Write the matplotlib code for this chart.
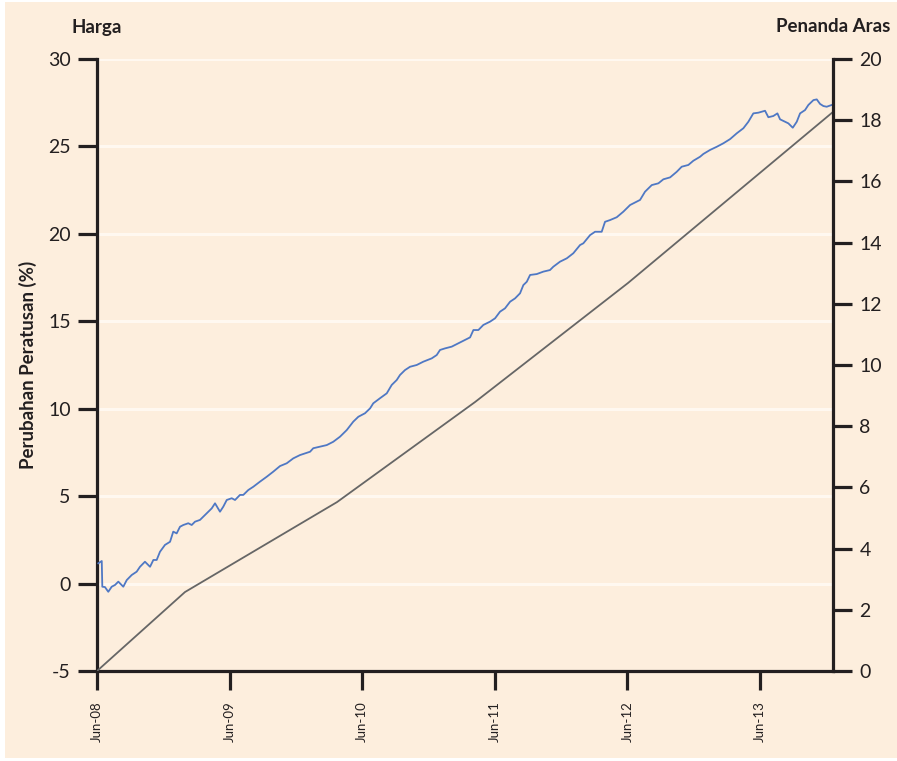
import matplotlib.pyplot as plt
from matplotlib.patches import Rectangle

plt.rcParams['font.family'] = ['Lato', 'DejaVu Sans']
plt.rcParams['axes.unicode_minus'] = False

# months after Jun-08 and price change (%)
harga_bulan = [0.12, 0.43, 0.48, 0.72, 1.02, 1.33, 1.63, 1.93, 2.38, 2.69, 3.14, 3.59, 3.89,
               4.34, 4.80, 5.10, 5.40, 5.70, 6.15, 6.61, 6.90, 7.21, 7.51, 7.81, 8.26, 8.57,
               8.87, 9.32, 9.77, 10.07, 10.38, 10.68, 11.13, 11.43, 11.74, 12.19, 12.49, 12.94,
               13.24, 13.69, 14.15, 14.75, 15.36, 15.95, 16.56, 17.17, 17.76, 18.37, 18.98,
               19.28, 19.57, 20.18, 20.79, 21.38, 21.99, 22.60, 23.19, 23.65, 24.25, 24.71,
               25.00, 25.61, 26.22, 26.67, 27.12, 27.42, 27.87, 28.33, 28.93, 29.53, 30.29,
               30.74, 31.04, 31.49, 32.10, 32.70, 33.30, 33.76, 34.06, 34.51, 34.96, 35.57,
               36.02, 36.47, 36.92, 37.38, 37.83, 38.28, 38.58, 38.89, 39.19, 39.79, 40.39,
               40.99, 41.29, 41.90, 42.51, 43.10, 43.71, 44.01, 44.62, 45.07, 45.67, 45.97,
               46.43, 47.03, 47.63, 48.24, 48.84, 49.14, 49.59, 50.20, 50.80, 51.25, 51.86,
               52.46, 52.91, 53.51, 53.96, 54.57, 54.87, 55.48, 56.08, 56.68, 57.29, 57.89,
               58.49, 58.94, 59.39, 59.85, 60.45, 60.75, 61.20, 61.57, 61.81, 62.26, 62.56,
               62.96, 63.32, 63.62, 64.07, 64.37, 64.83, 65.13, 65.43, 65.73, 66.03, 66.48]
harga = [1.16, 1.29, -0.18, -0.20, -0.47, -0.18, -0.08, 0.11, -0.18, 0.20, 0.49, 0.68, 0.96,
         1.25, 0.96, 1.35, 1.35, 1.82, 2.21, 2.39, 2.97, 2.87, 3.25, 3.35, 3.45, 3.35,
         3.54, 3.64, 3.92, 4.11, 4.30, 4.59, 4.11, 4.40, 4.78, 4.88, 4.78, 5.07,
         5.07, 5.35, 5.54, 5.83, 6.11, 6.40, 6.72, 6.88, 7.16, 7.35, 7.48,
         7.54, 7.74, 7.83, 7.92, 8.11, 8.40, 8.78, 9.26, 9.54, 9.74, 10.02,
         10.31, 10.60, 10.88, 11.36, 11.64, 11.93, 12.21, 12.40, 12.50, 12.69, 12.88,
         13.07, 13.36, 13.45, 13.55, 13.74, 13.93, 14.08, 14.50, 14.50, 14.79, 14.98,
         15.17, 15.55, 15.74, 16.12, 16.31, 16.60, 17.07, 17.26, 17.65, 17.70, 17.84,
         17.93, 18.12, 18.41, 18.60, 18.89, 19.36, 19.46, 19.93, 20.12, 20.12, 20.69,
         20.79, 20.95, 21.27, 21.65, 21.84, 21.94, 22.41, 22.79, 22.89, 23.12, 23.23,
         23.55, 23.84, 23.94, 24.18, 24.41, 24.57, 24.80, 24.98, 25.18, 25.42, 25.75,
         26.04, 26.41, 26.89, 26.93, 27.04, 26.67, 26.74, 26.89, 26.55, 26.41, 26.32,
         26.07, 26.41, 26.89, 27.08, 27.37, 27.65, 27.69, 27.43, 27.31, 27.27, 27.37]

# benchmark (right axis)
aras_bulan = [0, 7.96, 21.72, 34.21, 48.05, 66.6]
aras = [0, 2.58, 5.52, 8.79, 12.68, 18.27]

xtick_pos = [0, 12, 24, 36, 48, 60]
xtick_lbl = ['Jun-08', 'Jun-09', 'Jun-10', 'Jun-11', 'Jun-12', 'Jun-13']

bg = '#fdeedd'
ink = '#231f20'
fig = plt.figure(figsize=(8.97, 7.61), dpi=100, facecolor='white')
fig.patches.append(Rectangle((5 / 897, 3 / 761), 892 / 897, 756 / 761,
                             transform=fig.transFigure, facecolor=bg, edgecolor='none', zorder=-10))
ax = fig.add_axes([97 / 897, 1 - 671 / 761, 736 / 897, 612 / 761])
ax.set_facecolor(bg)
ax2 = ax.twinx()

for y in range(0, 31, 5):
    ax.axhline(y, color='#fff8f0', lw=2.2, zorder=0)

ax.plot(harga_bulan, harga, color='#4f78c4', lw=1.3, zorder=3)
ax2.plot(aras_bulan, aras, color='#666666', lw=1.3)

ax.set_xlim(0, 66.6)
ax.set_ylim(-5, 30)
ax2.set_ylim(0, 20)
ax.set_yticks(range(-5, 31, 5))
ax2.set_yticks(range(0, 21, 2))
ax.set_xticks(xtick_pos)
ax.set_xticklabels(xtick_lbl, rotation=90, color=ink)

for a in (ax, ax2):
    for s in a.spines.values():
        s.set_visible(False)
ax.spines['left'].set_visible(True)
ax.spines['bottom'].set_visible(True)
ax2.spines['right'].set_visible(True)
for s in (ax.spines['left'], ax.spines['bottom'], ax2.spines['right']):
    s.set_linewidth(2.3)
    s.set_color(ink)

ax.tick_params(axis='both', length=14, width=2.3, color=ink, labelsize=14,
               labelcolor=ink, pad=5)
ax.tick_params(axis='x', pad=8, labelsize=9.5)
ax2.tick_params(axis='y', length=14, width=2.3, color=ink, labelsize=14,
                labelcolor=ink, pad=5)

ax.set_ylabel('Perubahan Peratusan (%)', fontsize=13.5, fontweight='bold', color=ink, labelpad=8)
fig.text(97 / 897, 1 - 27 / 761, 'Harga', ha='center', va='center', fontsize=13.5,
         fontweight='bold', color=ink)
fig.text(890 / 897, 1 - 27 / 761, 'Penanda Aras', ha='right', va='center', fontsize=13.5,
         fontweight='bold', color=ink)

fig.savefig('out.png', dpi=100, facecolor=fig.get_facecolor())
